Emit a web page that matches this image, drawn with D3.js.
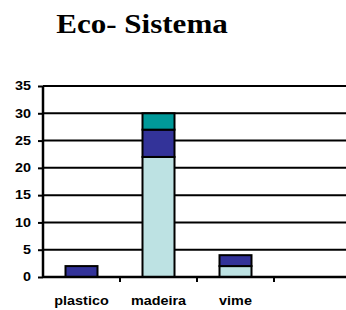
<!DOCTYPE html>
<html>
<head>
<meta charset="utf-8">
<script src="https://cdn.jsdelivr.net/npm/d3@7"></script>
<style>
  body { margin: 0; background: #fff; }
  svg { display: block; }
  .axis text { font-family: "Liberation Sans", Arial, sans-serif; font-weight: bold; font-size: 12px; fill: #000; }
</style>
</head>
<body>
<svg width="346" height="310"></svg>
<script>
var categories = ["plastico", "madeira", "vime", ""];
var serie1 = [0, 22, 2, 0];
var serie2 = [2, 5, 2, 0];
var serie3 = [0, 3, 0, 0];
var yTicks = [0, 5, 10, 15, 20, 25, 30, 35];
var colors = ["#bde2e3", "#333399", "#009999"];

var svg = d3.select("svg");
var margin = {top: 86, left: 43},
    width = 308,
    height = 191,
    stretch = 1.2; // text in the picture is a bit wider than tall

var rows = categories.map(function(c, i) {
  return {cat: c, s1: serie1[i], s2: serie2[i], s3: serie3[i]};
});
var stack = d3.stack().keys(["s1", "s2", "s3"])(rows);

var x = d3.scaleBand().domain(categories).range([0, width]).paddingInner(0).paddingOuter(0);
var y = d3.scaleLinear().domain([0, 35]).range([height, 0]);

svg.append("text")
    .attr("transform", "translate(142,33) scale(1.15,1)")
    .attr("text-anchor", "middle")
    .style("font-family", "'Liberation Serif', 'Times New Roman', serif")
    .style("font-weight", "bold")
    .style("font-size", "27px")
    .text("Eco- Sistema");

var g = svg.append("g")
    .attr("transform", "translate(" + margin.left + "," + margin.top + ")");

// grid
g.selectAll(".grid")
    .data(yTicks.slice(1))
  .enter().append("line")
    .attr("x1", 0)
    .attr("x2", width)
    .attr("y1", function(d) { return y(d); })
    .attr("y2", function(d) { return y(d); })
    .attr("stroke", "#000")
    .attr("stroke-width", 2);

var barW = 32;
g.selectAll(".serie")
    .data(stack)
  .enter().append("g")
    .attr("fill", function(d, i) { return colors[i]; })
  .selectAll("rect")
    .data(function(d) { return d.filter(function(p) { return p[1] > p[0]; }); })
  .enter().append("rect")
    .attr("x", function(d) { return x(d.data.cat) + x.bandwidth() / 2 - barW / 2; })
    .attr("width", barW)
    .attr("y", function(d) { return y(d[1]); })
    .attr("height", function(d) { return y(d[0]) - y(d[1]); })
    .attr("stroke", "#000")
    .attr("stroke-width", 2);

var yAxis = d3.axisLeft(y).tickValues(yTicks).tickSize(5);
g.append("g")
    .attr("class", "axis")
    .call(yAxis)
    .call(function(s) {
      s.select(".domain").attr("stroke-width", 2.5).attr("d", "M0,0V" + height);
      s.selectAll(".tick line").attr("stroke-width", 2);
      s.selectAll(".tick text")
          .attr("x", -12 / stretch)
          .attr("transform", "scale(" + stretch + ",1)");
    });

var xAxis = d3.axisBottom(x).tickSize(0);
g.append("g")
    .attr("class", "axis")
    .attr("transform", "translate(0," + height + ")")
    .call(xAxis)
    .call(function(s) {
      s.select(".domain").attr("stroke-width", 2.5).attr("d", "M0,0H" + width);
      s.selectAll(".tick text")
          .attr("dy", null)
          .attr("y", 28)
          .attr("transform", "scale(" + stretch + ",1)");
    });

// category boundary ticks
g.selectAll(".xtick")
    .data(categories.slice(1))
  .enter().append("line")
    .attr("x1", function(d) { return x(d); })
    .attr("x2", function(d) { return x(d); })
    .attr("y1", height)
    .attr("y2", height + 5)
    .attr("stroke", "#000")
    .attr("stroke-width", 2);
</script>
</body>
</html>
